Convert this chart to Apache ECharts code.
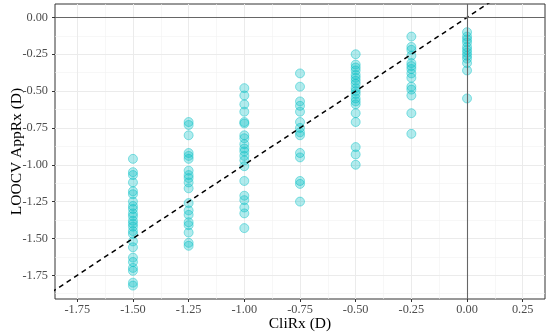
<!DOCTYPE html>
<html>
<head>
<meta charset="utf-8">
<script src="https://cdn.jsdelivr.net/npm/echarts@6/dist/echarts.min.js"></script>
<style>html,body{margin:0;padding:0;background:#fff}#c{width:550px;height:335px}</style>
</head>
<body>
<div id="c"></div>
<script>
// CliRx values (x) for each column of points
const cliRx = [-1.5, -1.25, -1.0, -0.75, -0.5, -0.25, 0.0];
// LOOCV AppRx values (y) for each column
const appRx_m150 = [-0.96, -1.05, -1.07, -1.12, -1.18, -1.20, -1.25, -1.28, -1.30, -1.33, -1.35, -1.38, -1.40, -1.42, -1.45, -1.47, -1.52, -1.56, -1.63, -1.66, -1.70, -1.72, -1.80, -1.82];
const appRx_m125 = [-0.71, -0.73, -0.80, -0.92, -0.94, -0.96, -1.04, -1.07, -1.09, -1.12, -1.16, -1.26, -1.31, -1.34, -1.39, -1.41, -1.46, -1.53, -1.55];
const appRx_m100 = [-0.48, -0.53, -0.59, -0.64, -0.71, -0.72, -0.80, -0.82, -0.86, -0.89, -0.91, -0.94, -0.97, -1.01, -1.11, -1.21, -1.24, -1.29, -1.33, -1.43];
const appRx_m075 = [-0.38, -0.47, -0.57, -0.60, -0.64, -0.71, -0.75, -0.78, -0.80, -0.92, -0.95, -1.11, -1.13, -1.25];
const appRx_m050 = [-0.25, -0.32, -0.34, -0.36, -0.39, -0.41, -0.43, -0.45, -0.48, -0.50, -0.52, -0.55, -0.57, -0.59, -0.65, -0.71, -0.88, -0.93, -1.00];
const appRx_m025 = [-0.13, -0.20, -0.22, -0.26, -0.31, -0.33, -0.35, -0.38, -0.41, -0.47, -0.49, -0.53, -0.65, -0.79];
const appRx_000 = [-0.10, -0.13, -0.15, -0.17, -0.20, -0.22, -0.24, -0.26, -0.28, -0.31, -0.36, -0.55];
const appRxColumns = [appRx_m150, appRx_m125, appRx_m100, appRx_m075, appRx_m050, appRx_m025, appRx_000];

// axis ticks
const xTicks = [-1.75, -1.5, -1.25, -1.0, -0.75, -0.5, -0.25, 0.0, 0.25];
const xMinorTicks = [-1.625, -1.375, -1.125, -0.875, -0.625, -0.375, -0.125, 0.125];
const yTicks = [0.0, -0.25, -0.5, -0.75, -1.0, -1.25, -1.5, -1.75];
const yMinorTicks = [-0.125, -0.375, -0.625, -0.875, -1.125, -1.375, -1.625, -1.875];
const xRange = [-1.85, 0.35];
const yRange = [-1.911, 0.091];
// identity reference line y = x
const identityLine = [-2, 1];

const points = [];
cliRx.forEach((x, i) => appRxColumns[i].forEach(y => points.push([x, y])));

const font = 'Liberation Serif';
const majorAxis = (ticks, range, name, gap, labelMargin, pos) => ({
  type: 'value', min: range[0], max: range[1], position: pos,
  name: name, nameLocation: 'middle', nameGap: gap, nameMoveOverlap: false,
  nameTextStyle: {fontFamily: font, fontSize: 15.5, color: '#000'},
  axisLine: {show: false, onZero: false},
  axisTick: {show: true, length: 3, customValues: ticks, lineStyle: {color: '#333333', width: 1}},
  axisLabel: {show: true, customValues: ticks, fontFamily: font, fontSize: 12.3, color: '#4D4D4D', margin: labelMargin,
    formatter: v => (Math.abs(v) < 1e-9 ? 0 : v).toFixed(2)},
  splitLine: {show: true, lineStyle: {color: '#EBEBEB', width: 1}},
  z: 1
});
const minorAxis = (ticks, range, pos) => ({
  type: 'value', min: range[0], max: range[1], position: pos,
  axisLine: {show: false, onZero: false},
  axisTick: {show: false, customValues: ticks},
  axisLabel: {show: false, customValues: ticks},
  splitLine: {show: true, lineStyle: {color: '#F2F2F2', width: 0.6}},
  z: 0
});

const chart = echarts.init(document.getElementById('c'), null, {renderer: 'canvas'});
chart.setOption({
  animation: false,
  backgroundColor: '#ffffff',
  grid: {left: 55, right: 5, top: 4, bottom: 36, show: true, borderColor: '#333333', borderWidth: 1,
    backgroundColor: 'transparent', containLabel: false, outerBoundsMode: 'none'},
  xAxis: [majorAxis(xTicks, xRange, 'CliRx (D)', 17, 5, 'bottom'), minorAxis(xMinorTicks, xRange, 'top')],
  yAxis: [majorAxis(yTicks, yRange, 'LOOCV AppRx (D)', 30, 7, 'left'), minorAxis(yMinorTicks, yRange, 'right')],
  series: [
    {
      type: 'line', xAxisIndex: 0, yAxisIndex: 0, silent: true,
      data: [],
      markLine: {
        silent: true, symbol: 'none', label: {show: false},
        lineStyle: {color: '#666666', width: 1.1, type: 'solid'},
        data: [{yAxis: 0}, {xAxis: 0}]
      },
      z: 2
    },
    {
      type: 'scatter', xAxisIndex: 0, yAxisIndex: 0,
      data: points, symbolSize: 9,
      itemStyle: {color: 'rgba(0,191,196,0.38)', borderColor: 'rgba(0,191,196,0.55)', borderWidth: 1},
      z: 3
    },
    {
      type: 'line', xAxisIndex: 0, yAxisIndex: 0,
      data: identityLine.map(v => [v, v]), symbol: 'none', clip: true,
      lineStyle: {color: '#000000', width: 1.5, type: [5, 4]},
      z: 4
    }
  ]
});
</script>
</body>
</html>
